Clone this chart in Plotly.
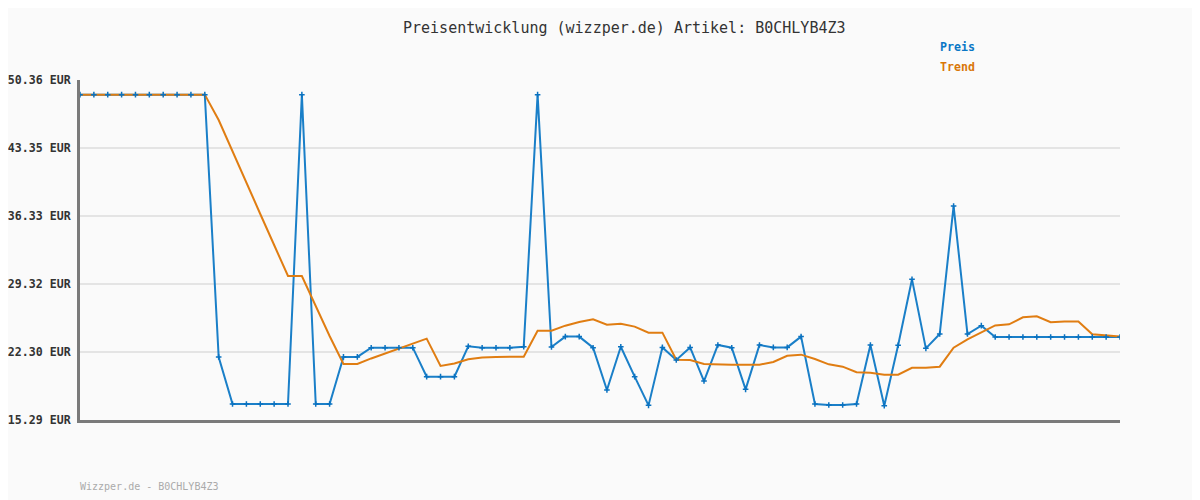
import plotly.graph_objects as go

title_text = "Preisentwicklung (wizzper.de) Artikel: B0CHLYB4Z3"
footer_text = "Wizzper.de - B0CHLYB4Z3"

tick_values = [15.29, 22.30, 29.32, 36.33, 43.35, 50.36]
tick_labels = ["15.29 EUR", "22.30 EUR", "29.32 EUR", "36.33 EUR", "43.35 EUR", "50.36 EUR"]

preis = [48.85] * 10 + [
    21.79, 16.94, 16.94, 16.94, 16.94, 16.94, 48.85, 16.94, 16.94, 21.80,
    21.80, 22.75, 22.75, 22.75, 22.75, 19.76, 19.76, 19.76, 22.89, 22.75,
    22.75, 22.75, 22.85, 48.85, 22.82, 23.89, 23.89, 22.75, 18.38, 22.85,
    19.76, 16.80, 22.78, 21.48, 22.78, 19.31, 23.03, 22.75, 18.45, 23.03,
    22.78, 22.78, 23.89, 16.94, 16.84, 16.84, 16.94, 23.03, 16.76, 23.00,
    29.80, 22.68, 24.16, 37.36, 24.16, 25.02,
] + [23.85] * 10

trend = [48.85] * 10 + [
    46.23, 42.95, 39.74, 36.54, 33.34, 30.14, 30.14, 27.03, 23.95, 21.07,
    21.07, 21.64, 22.14, 22.65, 23.16, 23.68, 20.86, 21.12, 21.55, 21.74,
    21.79, 21.82, 21.82, 24.50, 24.50, 25.02, 25.40, 25.68, 25.12, 25.22,
    24.92, 24.30, 24.30, 21.51, 21.48, 21.07, 21.00, 21.00, 21.00, 21.00,
    21.27, 21.92, 22.03, 21.58, 21.03, 20.79, 20.21, 20.17, 19.96, 19.96,
    20.68, 20.68, 20.79, 22.75, 23.61, 24.33, 25.05, 25.16, 25.88, 25.99,
    25.37, 25.44, 25.44, 24.13, 23.99, 23.89,
]

x_idx = list(range(len(preis)))

BLUE = "#1a7fc8"
ORANGE = "#e07d12"
MONO = "DejaVu Sans Mono, Liberation Mono, monospace"

fig = go.Figure()
fig.add_trace(go.Scatter(x=x_idx, y=preis, mode="lines", line=dict(color=BLUE, width=2),
                         showlegend=False, hoverinfo="skip"))
fig.add_trace(go.Scatter(x=x_idx, y=trend, mode="lines", line=dict(color=ORANGE, width=2),
                         showlegend=False, hoverinfo="skip"))
fig.add_trace(go.Scatter(x=x_idx, y=preis, mode="markers",
                         marker=dict(symbol="cross-thin", size=4, color=BLUE,
                                     line=dict(color="#0a72c0", width=1.5)),
                         showlegend=False, hoverinfo="skip"))

# page body has an 8px default margin: shift margins so the plot lands at 80..1120 x 80..420
fig.update_layout(
    width=1200, height=500,
    paper_bgcolor="#fafafa", plot_bgcolor="#fafafa",
    margin=dict(l=72, r=88, t=72, b=88, autoexpand=False),
    showlegend=False,
    xaxis=dict(range=[0, len(preis) - 1], showgrid=False, zeroline=False,
               showticklabels=False, ticks="", showline=True, automargin=False,
               linecolor="#7a7a7a", linewidth=3),
    yaxis=dict(range=[tick_values[0], tick_values[-1]], tickvals=tick_values,
               ticktext=tick_labels, showgrid=True, gridcolor="#e4e4e4", gridwidth=2,
               zeroline=False, ticks="", ticklabelstandoff=4, automargin=False,
               showline=True, linecolor="#7a7a7a", linewidth=3,
               tickfont=dict(family=MONO, size=11.6, color="#333333", weight="bold")),
    annotations=[
        dict(text=title_text, xref="paper", yref="paper", x=0.5233, y=1.153,
             xanchor="center", yanchor="middle", showarrow=False,
             font=dict(family=MONO, size=15, color="#333333")),
        dict(text="Preis", xref="paper", yref="paper", x=0.825, y=1.097,
             xanchor="left", yanchor="middle", showarrow=False,
             font=dict(family=MONO, size=11.6, color="#0a77c6", weight="bold")),
        dict(text="Trend", xref="paper", yref="paper", x=0.825, y=1.038,
             xanchor="left", yanchor="middle", showarrow=False,
             font=dict(family=MONO, size=11.6, color="#d97708", weight="bold")),
        dict(text=footer_text, xref="paper", yref="paper", x=-0.002, y=-0.197,
             xanchor="left", yanchor="middle", showarrow=False,
             font=dict(family=MONO, size=10, color="#aaaaaa")),
    ],
)

fig.write_html("out.html")
